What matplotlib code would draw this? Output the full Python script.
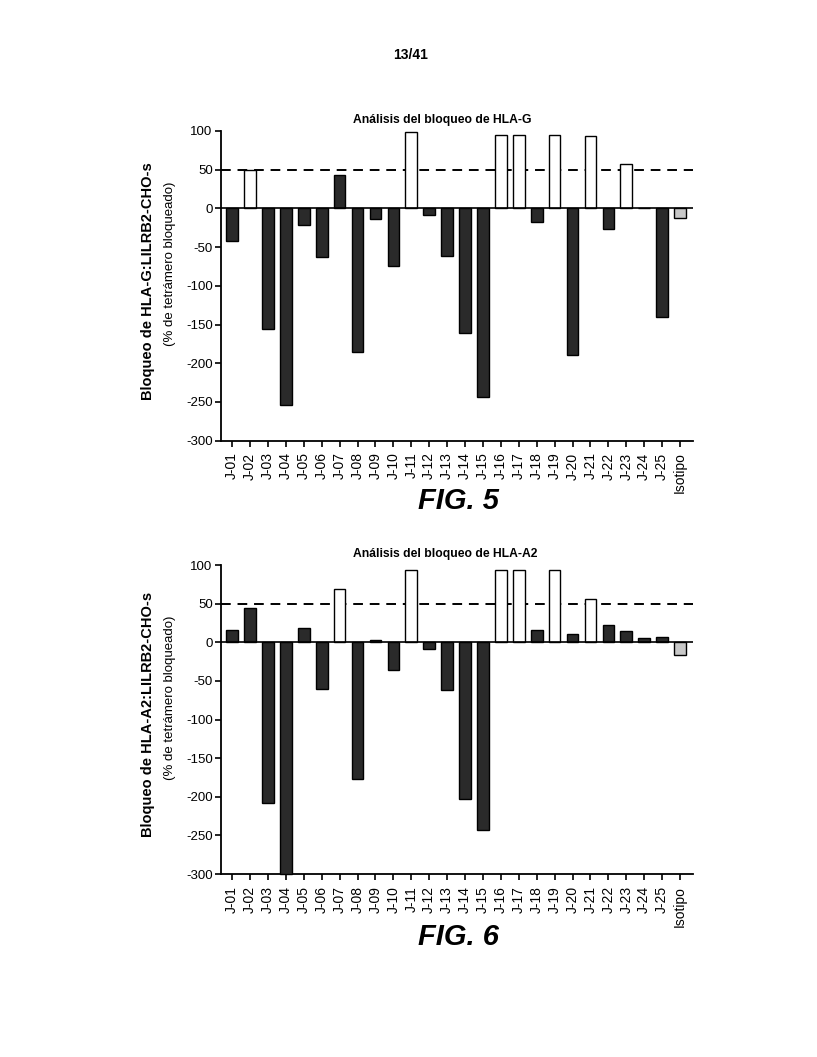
import matplotlib
matplotlib.use('Agg')
import matplotlib.pyplot as plt
import numpy as np

plt.rcParams['font.family'] = ['Liberation Sans', 'DejaVu Sans']
plt.rcParams['axes.unicode_minus'] = False

# ---- datos ----
labels = ['J-%02d' % i for i in range(1, 26)] + ['Isotipo']
hla_g = [-42, 49, -156, -254, -22, -63, 43, -186, -14, -74, 99, -9, -61,
         -161, -244, 95, 95, -17, 95, -189, 94, -26, 57, 0, -140, -12]
hla_a2 = [16, 44, -208, -300, 18, -60, 69, -177, 3, -36, 93, -9, -62,
          -203, -243, 94, 93, 16, 94, 11, 56, 22, 15, 5, 7, -16]
threshold = 50

DARK = '#2a2a2a'
ISO = '#c8c8c8'

fig = plt.figure(figsize=(8.17, 10.57), dpi=100)
fig.text(0.502, 0.948, '13/41', ha='center', va='center', fontsize=10, fontweight='bold')


def draw_panel(rect, values, title, title_x, ylabel_bold, fig_label, fig_y):
    ax = fig.add_axes(rect)
    x = np.arange(len(values))
    colors = []
    for i, v in enumerate(values):
        if i == len(values) - 1:
            colors.append(ISO)
        elif v >= 49:
            colors.append('white')
        else:
            colors.append(DARK)
    ax.bar(x, values, width=0.65, color=colors, edgecolor='black', linewidth=1.0,
           zorder=3, clip_on=False)
    ax.axhline(0, color='black', lw=1.2, zorder=4)
    ax.axhline(threshold, color='black', lw=1.4, ls=(0, (5, 3.5)), zorder=2)
    ax.set_xlim(-0.62, 25.72)
    ax.set_ylim(-300, 100)
    ax.set_yticks([100, 50, 0, -50, -100, -150, -200, -250, -300])
    ax.set_xticks(x)
    ax.set_xticklabels(labels, rotation=90, fontsize=10)
    ax.tick_params(axis='y', labelsize=9.5, length=4, width=1.2, direction='out', pad=2)
    ax.tick_params(axis='x', length=4.5, width=1.2, direction='out', pad=4)
    for s in ['top', 'right']:
        ax.spines[s].set_visible(False)
    for s in ['left', 'bottom']:
        ax.spines[s].set_linewidth(1.3)
    ax.set_title(title, fontsize=8.7, fontweight='bold', pad=6, x=title_x)
    ax.text(-0.155, 0.515, ylabel_bold, transform=ax.transAxes, rotation=90,
            ha='center', va='center', fontsize=10.5, fontweight='bold')
    ax.text(-0.108, 0.57, '(% de tetrámero bloqueado)', transform=ax.transAxes,
            rotation=90, ha='center', va='center', fontsize=9.5)
    fig.text(0.561, fig_y, fig_label, ha='center', va='center', fontsize=21,
             fontweight='bold', fontstyle='italic')
    return ax


draw_panel([0.2705, 0.5831, 0.5777, 0.2930], hla_g,
           'Análisis del bloqueo de HLA-G', 0.468, 'Bloqueo de HLA-G:LILRB2-CHO-s',
           'FIG. 5', 0.526)
draw_panel([0.2705, 0.1731, 0.5777, 0.2923], hla_a2,
           'Análisis del bloqueo de HLA-A2', 0.476, 'Bloqueo de HLA-A2:LILRB2-CHO-s',
           'FIG. 6', 0.114)

fig.savefig('out.png', dpi=100)
